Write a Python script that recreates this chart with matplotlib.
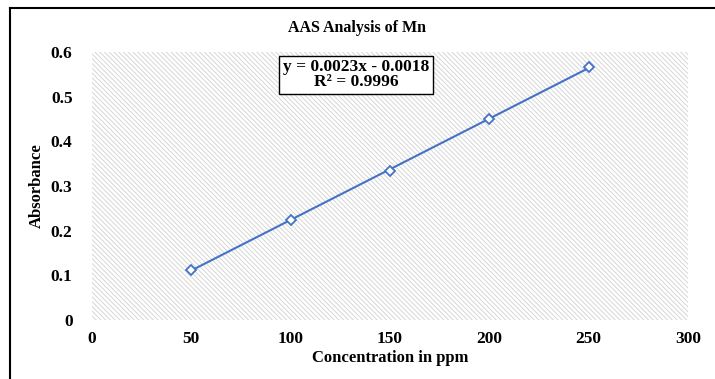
import matplotlib.pyplot as plt
from matplotlib.patches import Rectangle
from matplotlib.lines import Line2D
import numpy as np

# calibration data for Mn
conc = [50, 100, 150, 200, 250]
absorb = [0.113, 0.224, 0.334, 0.449, 0.567]
x_ticks = [0, 50, 100, 150, 200, 250, 300]
y_ticks = [0, 0.1, 0.2, 0.3, 0.4, 0.5, 0.6]
y_labels = ['0', '0.1', '0.2', '0.3', '0.4', '0.5', '0.6']

plt.rcParams['font.family'] = 'Liberation Serif'
plt.rcParams['font.weight'] = 'bold'
plt.rcParams['hatch.linewidth'] = 0.7

fig = plt.figure(figsize=(7.15, 3.79), dpi=100)
ax = fig.add_axes([0.1287, 0.1557, 0.8333, 0.7071])

# hatched plot background
ax.add_patch(Rectangle((0, 0), 1, 1, transform=ax.transAxes, facecolor='white',
                       edgecolor='#d6d6d6', linewidth=0, hatch='\\' * 7, zorder=0))

# trendline (linear fit) and the points
slope, icpt = np.polyfit(conc, absorb, 1)
xs = np.array([conc[0], conc[-1]])
ax.plot(xs, slope * xs + icpt, color='#4472C4', lw=1.5, zorder=2)
ax.plot(conc, absorb, linestyle='none', marker='D', ms=5, mfc='white',
        mec='#4472C4', mew=1.3, zorder=3)

ax.set_xlim(0, 300)
ax.set_ylim(0, 0.6)
ax.set_xticks(x_ticks)
ax.set_yticks(y_ticks)
ax.set_yticklabels(y_labels)
ax.tick_params(length=0, labelsize=12.5)
ax.tick_params(axis='x', pad=8)
ax.tick_params(axis='y', pad=14)
for s in ax.spines.values():
    s.set_visible(False)

ax.set_xlabel('Concentration in ppm', fontsize=12, fontweight='bold')
ax.xaxis.set_label_coords(0.5, -0.112)
ax.set_ylabel('Absorbance', fontsize=12, fontweight='bold', labelpad=4)
fig.text(0.5, 0.926, 'AAS Analysis of Mn', ha='center', va='center',
         fontsize=11.5, fontweight='bold')

ax.text(0.443, 0.915, 'y = 0.0023x - 0.0018\nR² = 0.9996', transform=ax.transAxes,
        ha='center', va='center', fontsize=12.5, fontweight='bold',
        linespacing=0.95,
        bbox=dict(boxstyle='square,pad=0.2', facecolor='white', edgecolor='black', lw=1))

# outer chart frame (left and top edges visible)
fig.add_artist(Line2D([0.014, 0.014], [0, 0.979], color='black', lw=1.5, transform=fig.transFigure))
fig.add_artist(Line2D([0.014, 1.0], [0.979, 0.979], color='black', lw=1.5, transform=fig.transFigure))

fig.savefig('out.png', dpi=100)
